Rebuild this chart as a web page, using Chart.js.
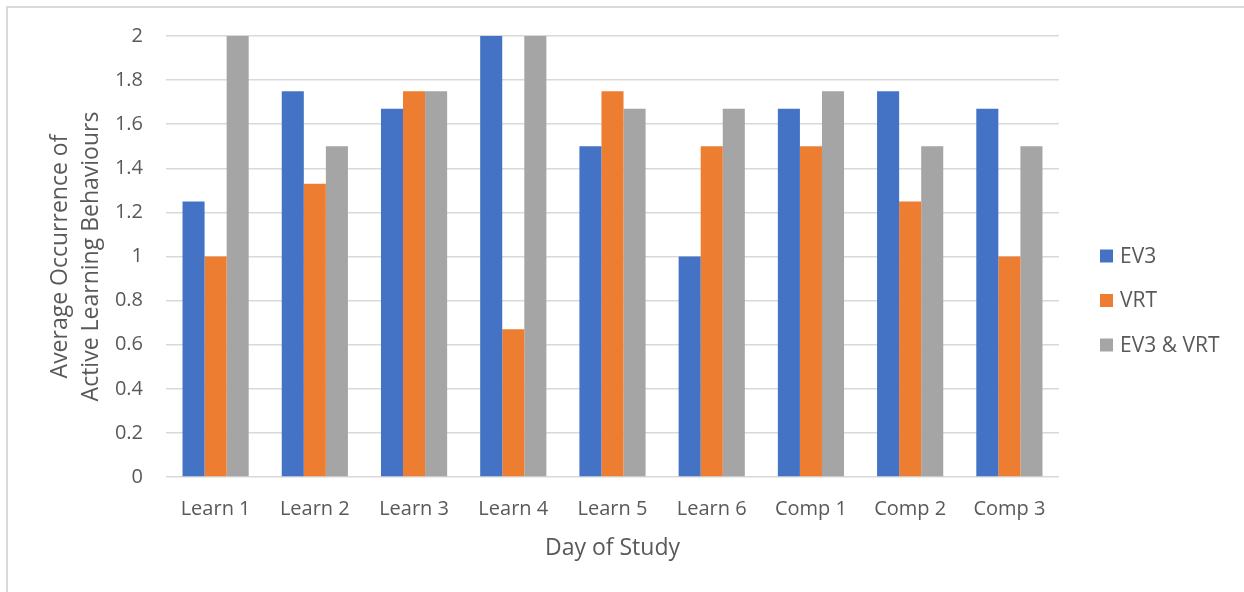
<!DOCTYPE html>
<html>
<head>
<meta charset="utf-8">
<script src="https://cdn.jsdelivr.net/npm/chart.js@4"></script>
<style>
  html, body { margin: 0; padding: 0; background: #ffffff; overflow: hidden; }
  #frame { position: absolute; left: 6px; top: 6px; width: 1400px; height: 800px; border: 2px solid #d9d9d9; box-sizing: border-box; }
  #chart { position: absolute; left: 0; top: 0; }
</style>
</head>
<body>
<div id="frame"></div>
<canvas id="chart" width="1244" height="592"></canvas>
<script>
// Days of the study
const categories = ['Learn 1', 'Learn 2', 'Learn 3', 'Learn 4', 'Learn 5', 'Learn 6', 'Comp 1', 'Comp 2', 'Comp 3'];

// Average occurrence of active learning behaviours per group
const ev3 = [1.25, 1.75, 1.67, 2.0, 1.5, 1.0, 1.67, 1.75, 1.67];
const vrt = [1.0, 1.33, 1.75, 0.67, 1.75, 1.5, 1.5, 1.25, 1.0];
const ev3AndVrt = [2.0, 1.5, 1.75, 2.0, 1.67, 1.67, 1.75, 1.5, 1.5];

const seriesNames = ['EV3', 'VRT', 'EV3 & VRT'];
const seriesColors = ['#4472C4', '#ED7D31', '#A5A5A5'];

// Value axis ticks
const yTicks = [0, 0.2, 0.4, 0.6, 0.8, 1, 1.2, 1.4, 1.6, 1.8, 2];

const textColor = '#595959';
const fontFamily = '"Open Sans", sans-serif';

// Legend drawn at the right of the plot, one row per dataset
const sideLegend = {
  id: 'sideLegend',
  afterDraw(chart) {
    const ctx = chart.ctx;
    const x = 1100, y0 = 256, step = 44.5, box = 13;
    ctx.save();
    ctx.font = '21px ' + fontFamily;
    ctx.textBaseline = 'middle';
    ctx.textAlign = 'left';
    chart.data.datasets.forEach((ds, i) => {
      const y = y0 + i * step;
      ctx.fillStyle = ds.backgroundColor;
      ctx.fillRect(x, y - box / 2, box, box);
      ctx.fillStyle = textColor;
      ctx.fillText(ds.label, x + 20, y + 1);
    });
    ctx.restore();
  }
};

const data = {
  labels: categories,
  datasets: [ev3, vrt, ev3AndVrt].map((values, i) => ({
    label: seriesNames[i],
    data: values,
    backgroundColor: seriesColors[i],
    borderWidth: 0,
    barPercentage: 1,
    categoryPercentage: 0.667
  }))
};

new Chart(document.getElementById('chart'), {
  type: 'bar',
  data,
  options: {
    responsive: false,
    animation: false,
    devicePixelRatio: 1,
    layout: { padding: { left: 0, right: 185, top: 36, bottom: 0 } },
    plugins: {
      legend: { display: false },
      tooltip: { enabled: false }
    },
    scales: {
      x: {
        grid: { display: false, drawTicks: false },
        border: { display: false },
        ticks: {
          color: textColor,
          font: { family: fontFamily, size: 20 },
          padding: 20,
          maxRotation: 0
        },
        title: {
          display: true,
          text: 'Day of Study',
          color: textColor,
          font: { family: fontFamily, size: 23, lineHeight: 1.2 },
          padding: { top: 0, bottom: 30 }
        },
        afterFit(scale) { scale.height = 115; }
      },
      y: {
        min: 0,
        max: 2,
        afterBuildTicks(scale) { scale.ticks = yTicks.map(v => ({ value: v })); },
        grid: { color: '#d9d9d9', lineWidth: 1.5, drawTicks: false },
        border: { display: false },
        ticks: {
          color: textColor,
          font: { family: fontFamily, size: 20 },
          padding: 23,
          callback: v => String(Number(v.toFixed(2)))
        },
        title: {
          display: true,
          text: ['Average Occurrence of', 'Active Learning Behaviours'],
          color: textColor,
          font: { family: fontFamily, size: 23, lineHeight: 1.35 },
          padding: { top: 44.5, bottom: 0 }
        },
        afterFit(scale) { scale.width = 166; }
      }
    }
  },
  plugins: [sideLegend]
});
</script>
</body>
</html>
